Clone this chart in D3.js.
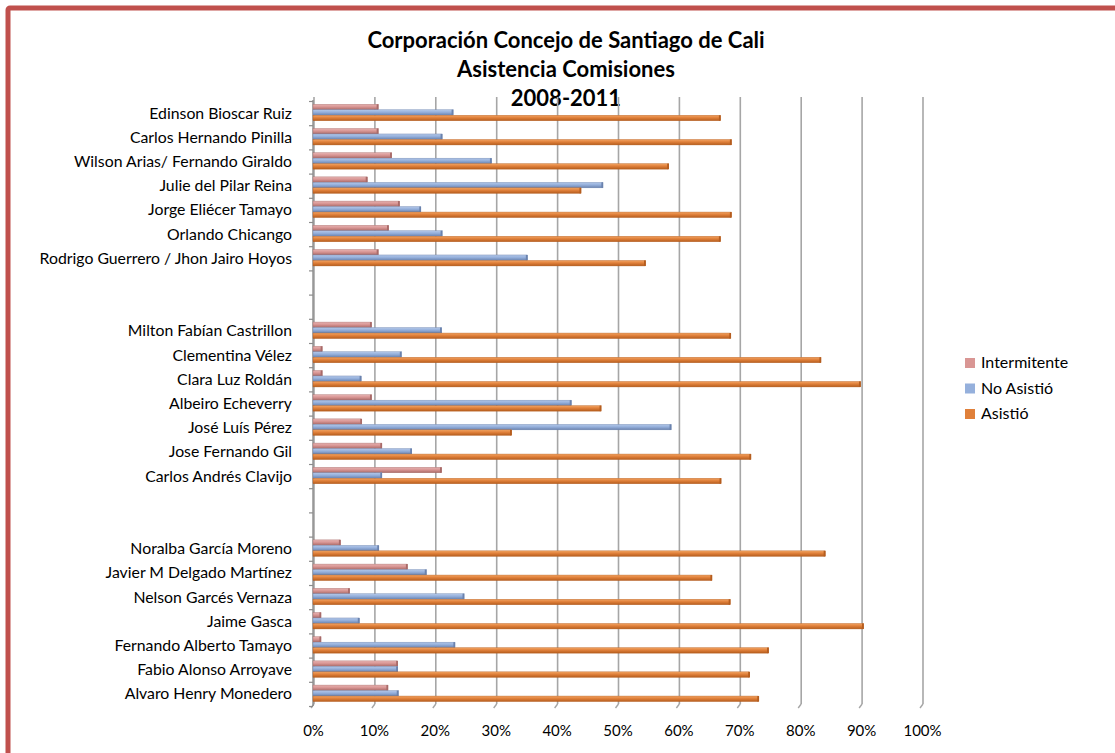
<!DOCTYPE html>
<html>
<head>
<meta charset="utf-8">
<script src="https://cdn.jsdelivr.net/npm/d3@7"></script>
<style>
  body { margin: 0; background: #fff; }
  svg text { font-family: Lato, "Open Sans", sans-serif; fill: #000; }
</style>
</head>
<body>
<svg id="chart" width="1115" height="753"></svg>
<script>
// Data (percent), empty names are spacer rows between groups
const categories = [
    "Edinson Bioscar Ruiz", "Carlos Hernando Pinilla", "Wilson Arias/ Fernando Giraldo",
    "Julie del Pilar Reina", "Jorge Eliécer Tamayo", "Orlando Chicango",
    "Rodrigo Guerrero / Jhon Jairo Hoyos", "", "",
    "Milton Fabían Castrillon", "Clementina Vélez", "Clara Luz Roldán", "Albeiro Echeverry",
    "José Luís Pérez", "Jose Fernando Gil", "Carlos Andrés Clavijo", "", "",
    "Noralba García Moreno", "Javier M Delgado  Martínez", "Nelson Garcés Vernaza", "Jaime Gasca",
    "Fernando Alberto Tamayo", "Fabio Alonso Arroyave", "Alvaro Henry Monedero"
];
const intermitente = [10.7, 10.7, 12.9, 8.9, 14.2, 12.4, 10.7, null, null,
    9.6, 1.5, 1.5, 9.6, 8.0, 11.3, 21.1, null, null,
    4.5, 15.5, 6.0, 1.3, 1.3, 13.9, 12.3];
const noAsistio = [23.0, 21.2, 29.3, 47.6, 17.7, 21.2, 35.2, null, null,
    21.1, 14.5, 7.9, 42.4, 58.8, 16.2, 11.3, null, null,
    10.8, 18.6, 24.8, 7.6, 23.3, 13.9, 14.0];
const asistio = [66.9, 68.7, 58.4, 44.0, 68.7, 66.9, 54.6, null, null,
    68.6, 83.4, 89.9, 47.3, 32.6, 71.9, 67.0, null, null,
    84.1, 65.5, 68.5, 90.4, 74.8, 71.7, 73.2];
const seriesNames = ["Intermitente", "No Asistió", "Asistió"];
const xTicks = [0, 10, 20, 30, 40, 50, 60, 70, 80, 90, 100];

const colors = {
    "Intermitente": { light: "#e6b3b2", mid: "#d99694", dark: "#a86a68" },
    "No Asistió": { light: "#b3c7e8", mid: "#95b0dc", dark: "#6a82ad" },
    "Asistió": { light: "#f2a463", mid: "#e0803a", dark: "#b55d1e" }
};

const series = [
    { name: "Intermitente", values: intermitente },
    { name: "No Asistió", values: noAsistio },
    { name: "Asistió", values: asistio }
];

const svg = d3.select("#chart");

// red frame
svg.append("rect")
    .attr("x", 8).attr("y", 8)
    .attr("width", 1200).attr("height", 800)
    .attr("rx", 2)
    .attr("fill", "none")
    .attr("stroke", "#c0504d")
    .attr("stroke-width", 5);

// gradients for the 3D look
const defs = svg.append("defs");
seriesNames.forEach((n, i) => {
    const g = defs.append("linearGradient")
        .attr("id", "grad" + i)
        .attr("x1", 0).attr("y1", 0).attr("x2", 0).attr("y2", 1);
    g.append("stop").attr("offset", "0%").attr("stop-color", colors[n].light);
    g.append("stop").attr("offset", "45%").attr("stop-color", colors[n].mid);
    g.append("stop").attr("offset", "100%").attr("stop-color", colors[n].dark);
});

// Title
const title = ["Corporación Concejo de Santiago de Cali", "Asistencia Comisiones", "2008-2011"];
svg.append("g").selectAll("text")
    .data(title)
    .enter().append("text")
    .attr("x", 566)
    .attr("y", (d, i) => 48 + i * 29)
    .attr("text-anchor", "middle")
    .attr("font-size", 22)
    .attr("font-weight", "bold")
    .text(d => d);

// Scales
const x = d3.scaleLinear().domain([0, 100]).range([313, 922]);
const y = d3.scaleBand()
    .domain(d3.range(categories.length))
    .range([101.5, 706.5]);
const yInner = d3.scaleBand()
    .domain(seriesNames)
    .range([0, y.bandwidth() * 0.68]);

const plotTop = 97, plotBottom = 704;

// gridlines (back wall)
svg.append("g").selectAll("line")
    .data(xTicks)
    .enter().append("line")
    .attr("x1", d => x(d) + 1).attr("x2", d => x(d) + 1)
    .attr("y1", plotTop).attr("y2", plotBottom)
    .attr("stroke", "#a6a6a6")
    .attr("stroke-width", 1.6);

// floor ticks (slanted front edge)
svg.append("g").selectAll("path")
    .data(xTicks)
    .enter().append("path")
    .attr("d", d => `M${x(d) + 1},${plotBottom} L${x(d) - 2},${plotBottom + 4}`)
    .attr("stroke", "#a6a6a6")
    .attr("stroke-width", 1.4)
    .attr("fill", "none");

// y axis line with tick marks on slot boundaries
svg.append("line")
    .attr("x1", 313).attr("x2", 313)
    .attr("y1", plotTop + 3).attr("y2", plotBottom + 2)
    .attr("stroke", "#8c8c8c")
    .attr("stroke-width", 1.4);
svg.append("g").selectAll("line")
    .data(d3.range(categories.length + 1))
    .enter().append("line")
    .attr("x1", 309).attr("x2", 313)
    .attr("y1", d => 101.5 + d * y.step())
    .attr("y2", d => 101.5 + d * y.step())
    .attr("stroke", "#8c8c8c")
    .attr("stroke-width", 1.2);

// Bars
const rows = svg.append("g").selectAll("g")
    .data(categories.map((c, i) => ({ i: i, name: c })))
    .enter().append("g")
    .attr("transform", d => `translate(0,${y(d.i) + y.bandwidth() * 0.115})`);

rows.selectAll("g.bar")
    .data(d => series.filter(s => s.values[d.i] != null)
        .map(s => ({ name: s.name, k: seriesNames.indexOf(s.name), v: s.values[d.i] })))
    .enter().append("g")
    .attr("class", "bar")
    .each(function (d) {
        const g = d3.select(this);
        const y0 = yInner(d.name);
        const h = yInner.bandwidth();
        g.append("rect")
            .attr("x", x(0))
            .attr("y", y0)
            .attr("width", x(d.v) - x(0))
            .attr("height", h)
            .attr("fill", `url(#grad${d.k})`)
            .attr("stroke", colors[d.name].dark)
            .attr("stroke-width", 0.4);
        // darker end cap
        g.append("rect")
            .attr("x", x(d.v) - 1.5)
            .attr("y", y0)
            .attr("width", 1.8)
            .attr("height", h)
            .attr("fill", colors[d.name].dark);
    });

// Category labels
const yAxis = d3.axisLeft(y).tickSize(0).tickPadding(21)
    .tickFormat(i => categories[i]);
svg.append("g")
    .attr("transform", "translate(313,0)")
    .call(yAxis)
    .call(g => g.select(".domain").remove())
    .selectAll("text")
    .attr("font-size", 15.8)
    .attr("font-family", "Lato, sans-serif")
    .attr("fill", "#000");

// X axis labels
const xAxis = d3.axisBottom(x).tickValues(xTicks).tickSize(0).tickPadding(19)
    .tickFormat(d => d + "%");
svg.append("g")
    .attr("transform", `translate(0,${plotBottom + 2})`)
    .call(xAxis)
    .call(g => g.select(".domain").remove())
    .selectAll("text")
    .attr("font-size", 15)
    .attr("font-family", "Lato, sans-serif")
    .attr("fill", "#000");

// Legend
const legend = svg.append("g").selectAll("g")
    .data(seriesNames)
    .enter().append("g")
    .attr("transform", (d, i) => `translate(965,${358 + i * 25.5})`);
legend.append("rect")
    .attr("width", 10).attr("height", 10)
    .attr("fill", d => colors[d].mid);
legend.append("text")
    .attr("x", 16).attr("y", 10)
    .attr("font-size", 16)
    .text(d => d);
</script>
</body>
</html>
